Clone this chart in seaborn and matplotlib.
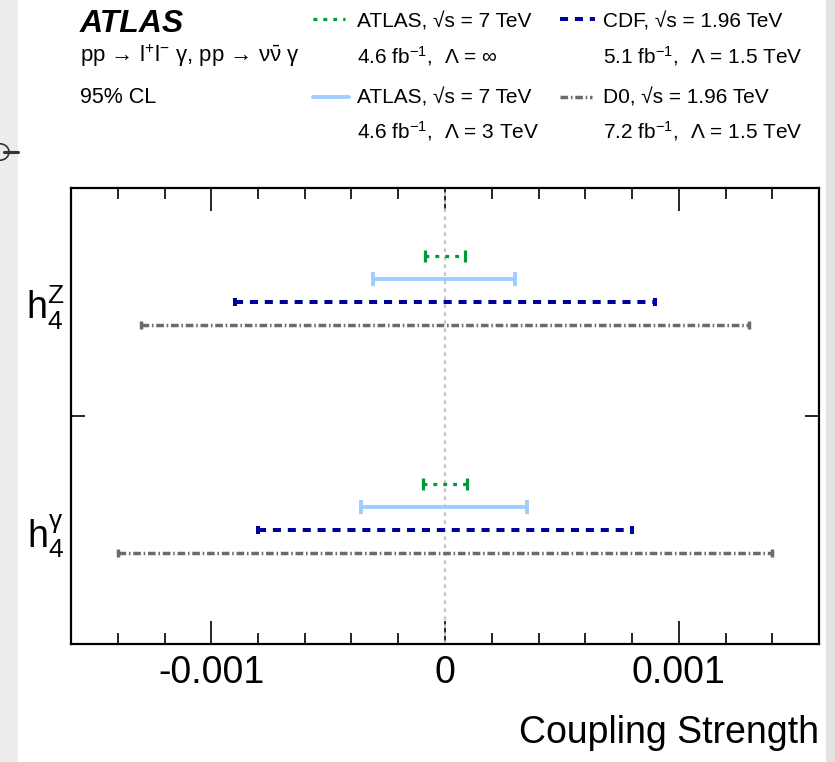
import matplotlib
matplotlib.use("Agg")
import matplotlib.pyplot as plt
from matplotlib.lines import Line2D
from matplotlib.patches import Rectangle, Circle
from matplotlib.ticker import MultipleLocator
import numpy as np
import pandas as pd
import seaborn as sns

# ---- limits on the anomalous couplings (95% CL intervals) ----
couplings = ["h4Z", "h4g"]
coupling_labels = [r"$\mathrm{h}_4^{\mathrm{Z}}$", r"$\mathrm{h}_4^{\mathrm{γ}}$"]
experiments = ["ATLAS_inf", "ATLAS_3TeV", "CDF", "D0"]

lower_h4Z = [-0.000087, -0.00031, -0.0009, -0.0013]
upper_h4Z = [0.000087, 0.00030, 0.0009, 0.0013]
lower_h4g = [-0.000094, -0.00036, -0.0008, -0.0014]
upper_h4g = [0.000092, 0.00035, 0.0008, 0.0014]

x_ticks = [-0.001, 0.0, 0.001]
x_tick_labels = ["-0.001", "0", "0.001"]

legend_line1 = ["ATLAS, √s = 7 TeV", "ATLAS, √s = 7 TeV",
                "CDF, √s = 1.96 TeV", "D0, √s = 1.96 TeV"]
legend_line2 = [r"4.6 fb$^{\mathrm{-1}}$,  Λ = ∞", r"4.6 fb$^{\mathrm{-1}}$,  Λ = 3 TeV",
                r"5.1 fb$^{\mathrm{-1}}$,  Λ = 1.5 TeV", r"7.2 fb$^{\mathrm{-1}}$,  Λ = 1.5 TeV"]

# ---- styles ----
colors = {"ATLAS_inf": "#009a3a", "ATLAS_3TeV": "#9fcdff",
          "CDF": "#00009a", "D0": "#6b6b6b"}
widths = {"ATLAS_inf": 2.3, "ATLAS_3TeV": 2.8, "CDF": 2.9, "D0": 2.5}
dash_styles = {"ATLAS_inf": (1.2, 1.9), "ATLAS_3TeV": "",
               "CDF": (2.0, 1.7), "D0": (2.2, 0.8, 0.45, 0.8)}
cap_size = {"ATLAS_inf": 9, "ATLAS_3TeV": 10, "CDF": 5.5, "D0": 6}
row_offset = {"ATLAS_inf": 0.2, "ATLAS_3TeV": 0.1, "CDF": 0.0, "D0": -0.1}
category_center = {"h4Z": 1.5, "h4g": 0.5}

sns.set_theme(style="white")
plt.rcParams["font.family"] = ["Liberation Sans", "DejaVu Sans"]
plt.rcParams["mathtext.fontset"] = "custom"
plt.rcParams["mathtext.rm"] = "Liberation Sans"
plt.rcParams["mathtext.it"] = "Liberation Sans:italic"
plt.rcParams["mathtext.bf"] = "Liberation Sans:bold"
plt.rcParams["mathtext.fallback"] = "stix"
for key in ["text.color", "axes.labelcolor", "xtick.color", "ytick.color", "axes.edgecolor"]:
    plt.rcParams[key] = "black"

# ---- long-form table of interval end points ----
bounds = {"h4Z": (lower_h4Z, upper_h4Z), "h4g": (lower_h4g, upper_h4g)}
rows = []
unit = 0
for c in couplings:
    lo, hi = bounds[c]
    for i, e in enumerate(experiments):
        y = category_center[c] + row_offset[e]
        rows.append(dict(x=lo[i], y=y, series=e, unit=unit))
        rows.append(dict(x=hi[i], y=y, series=e, unit=unit))
        unit += 1
df = pd.DataFrame(rows)

W, H = 835, 762
fig = plt.figure(figsize=(W / 100, H / 100), dpi=100)
fig.patch.set_facecolor("white")

# side strips of the page
fig.add_artist(Rectangle((0, 0), 18 / W, 1, transform=fig.transFigure,
                         facecolor="#ececec", edgecolor="none", zorder=0))
fig.add_artist(Rectangle((826 / W, 0), 9 / W, 1, transform=fig.transFigure,
                         facecolor="#e2e2e2", edgecolor="none", zorder=0))
fig.add_artist(Line2D([4 / W, 18 / W], [1 - 152 / H, 1 - 152 / H],
                      transform=fig.transFigure, color="#333333", lw=2.2))
fig.add_artist(Circle((0, 1 - 152 / H), 9 / W, transform=fig.transFigure,
                      facecolor="none", edgecolor="#333333", lw=1.2))

ax = fig.add_axes([71 / W, 1 - 644 / H, (819 - 71) / W, (644 - 188) / H])
ax.set_facecolor("white")

ax.axvline(0, color="#c4c4c4", lw=1.6, ls=(0, (1.6, 2.0)), zorder=1)

sns.lineplot(data=df, x="x", y="y", hue="series", style="series", size="series",
             units="unit", estimator=None, sort=False,
             palette=colors, dashes=dash_styles, sizes=widths,
             hue_order=experiments, style_order=experiments, size_order=experiments,
             legend=False, ax=ax, zorder=3)

# interval end caps
for c in couplings:
    lo, hi = bounds[c]
    for i, e in enumerate(experiments):
        y = category_center[c] + row_offset[e]
        ax.plot([lo[i], hi[i]], [y, y], ls="none", marker="|",
                ms=cap_size[e], mew=widths[e], color=colors[e], zorder=4)

ax.set_xlim(-0.0016, 0.0016)
ax.set_ylim(0, 2)
ax.set_xticks(x_ticks, labels=x_tick_labels)
ax.xaxis.set_minor_locator(MultipleLocator(0.0002))
ax.set_yticks([1.0], labels=[""])
ax.set_yticks([category_center[c] for c in couplings], labels=coupling_labels, minor=True)

ax.tick_params(axis="x", which="major", direction="in", length=16.5, width=1.2,
               top=True, bottom=True, labelsize=27, pad=8, colors="black")
ax.tick_params(axis="x", which="minor", direction="in", length=8, width=1.2,
               top=True, bottom=True)
ax.tick_params(axis="y", which="major", direction="in", length=10, width=1.2,
               left=True, right=True)
ax.tick_params(axis="y", which="minor", length=0, labelsize=27, pad=5)

for s in ax.spines.values():
    s.set_visible(True)
    s.set_color("black")
    s.set_linewidth(1.6)

ax.set_ylabel("")
ax.set_xlabel("Coupling Strength", fontsize=27, ha="right", va="top")
ax.xaxis.set_label_coords(1.0, -0.155)

# ---- header ----
def fy(py):
    return 1 - py / H

fig.text(80 / W, fy(32), "ATLAS", fontsize=23, fontweight="bold", fontstyle="italic",
         va="baseline", ha="left")
fig.text(80 / W, fy(62),
         r"pp → l$^{\mathrm{+}}$l$^{\mathrm{-}}$ γ, pp → ν$\bar{\mathrm{ν}}$ γ",
         fontsize=16, va="baseline", ha="left")
fig.text(80 / W, fy(103), "95% CL", fontsize=15.5, va="baseline", ha="left")

# ---- legend ----
legend_pos = {"ATLAS_inf": (313, 345, 19, 357, 28),
              "ATLAS_3TeV": (313, 349, 97, 357, 103),
              "CDF": (560, 595, 19, 603, 28),
              "D0": (560, 592, 97, 603, 103)}
for i, e in enumerate(experiments):
    x0, x1, ly, tx, ty = legend_pos[e]
    fig.add_artist(Line2D([x0 / W, x1 / W], [fy(ly), fy(ly)], transform=fig.transFigure,
                          color=colors[e], lw=widths[e],
                          ls="-" if dash_styles[e] == "" else (0, dash_styles[e])))
    fig.text(tx / W, fy(ty), legend_line1[i], fontsize=15, va="baseline", ha="left")
    fig.text(tx / W, fy(ty + 35), legend_line2[i], fontsize=15, va="baseline", ha="left")

fig.savefig("out.png", dpi=100)
